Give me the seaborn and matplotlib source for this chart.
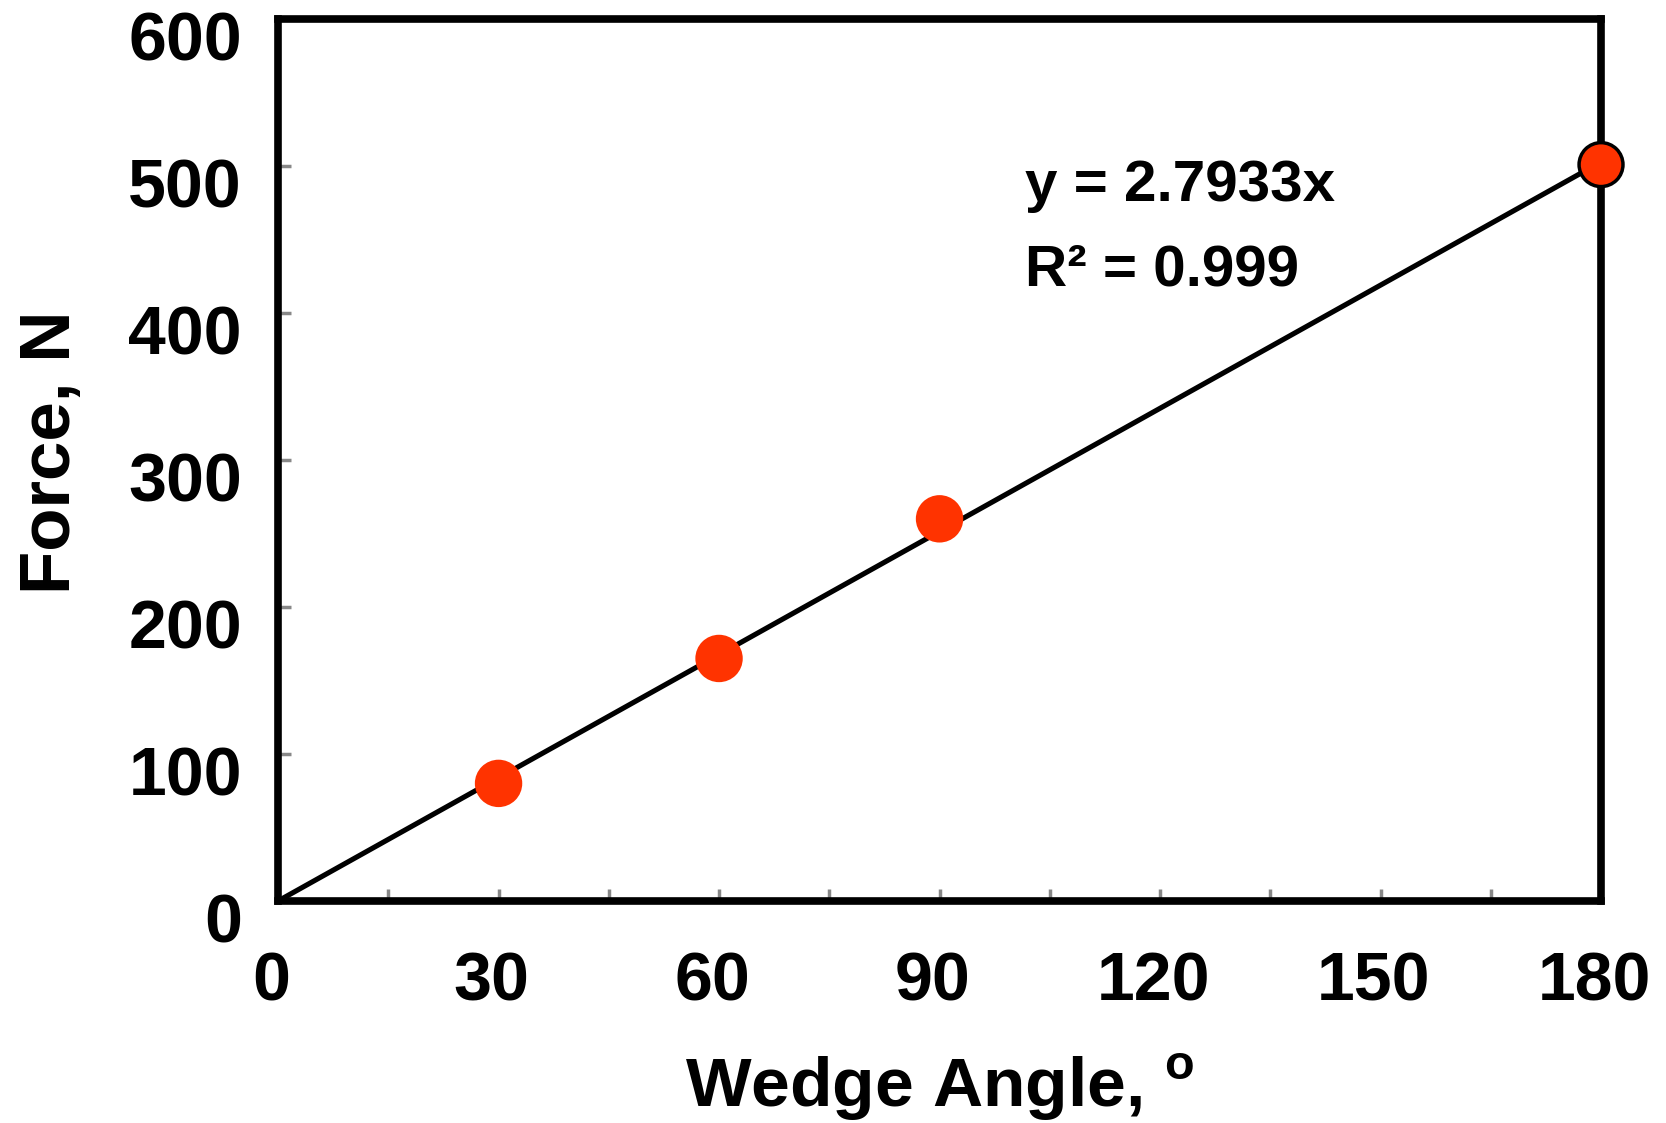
import matplotlib
matplotlib.use("Agg")
import numpy as np
import pandas as pd
import matplotlib.pyplot as plt
import matplotlib.transforms as mtransforms
import seaborn as sns

# data
wedge_angle = [30, 60, 90, 180]
force = [80, 165, 260, 501]
slope = 2.7933
r_squared = 0.999
fit_x = [0, 180]
x_ticks = [0, 30, 60, 90, 120, 150, 180]
y_ticks = [0, 100, 200, 300, 400, 500, 600]

df = pd.DataFrame({"angle": wedge_angle, "force": force})
fit = pd.DataFrame({"angle": fit_x, "force": [slope * v for v in fit_x]})

sns.set_style("white")
plt.rcParams["font.family"] = ["Liberation Sans", "DejaVu Sans"]
plt.rcParams["font.weight"] = "bold"
plt.rcParams["text.color"] = "black"
plt.rcParams["axes.labelcolor"] = "black"
plt.rcParams["mathtext.fontset"] = "custom"
plt.rcParams["mathtext.bf"] = "Liberation Sans:bold"
plt.rcParams["mathtext.rm"] = "Liberation Sans:bold"

fig = plt.figure(figsize=(16.66, 11.23), dpi=100)
ax = fig.add_axes([0.1669, 0.1977, 0.9610 - 0.1669, 0.9830 - 0.1977])

sns.lineplot(data=fit, x="angle", y="force", ax=ax, color="black", linewidth=3.7, zorder=2)
edges = ["#ff3300", "#ff3300", "#ff3300", "black"]
sns.scatterplot(data=df, x="angle", y="force", ax=ax, s=1000, color="#ff3300",
                edgecolor=edges, linewidth=2.5, zorder=3, clip_on=False)

ax.set_xlim(0, 180)
ax.set_ylim(0, 600)
ax.set_xticks(x_ticks)
ax.set_xticks(np.arange(15, 180, 30), minor=True)
ax.set_yticks(y_ticks)
ax.tick_params(axis="both", which="both", direction="in", length=9, width=2.5,
               color="#888888", labelcolor="black", labelsize=49,
               bottom=True, left=True, top=False, right=False)
ax.tick_params(axis="x", which="major", pad=36)
ax.tick_params(axis="y", which="major", pad=26)

# Excel-like label placement: y labels sit a bit below their ticks, x labels a bit left
dy = mtransforms.ScaledTranslation(0, -12 / 72, fig.dpi_scale_trans)
dx = mtransforms.ScaledTranslation(-5 / 72, 0, fig.dpi_scale_trans)
for lab in ax.get_yticklabels():
    lab.set_fontweight("bold")
    lab.set_transform(lab.get_transform() + dy)
for lab in ax.get_xticklabels():
    lab.set_fontweight("bold")
    lab.set_transform(lab.get_transform() + dx)

for sp in ax.spines.values():
    sp.set_visible(True)
    sp.set_color("black")
    sp.set_linewidth(5.5)

ax.set_xlabel(r"Wedge Angle, $^{\mathbf{o}}$", fontsize=50, fontweight="bold", labelpad=27)
ax.set_ylabel("Force, N", fontsize=51, fontweight="bold")
ax.yaxis.set_label_coords(-0.146, 0.509)

ax.text(101.6, 476, f"y = {slope}x", fontsize=42, fontweight="bold", va="baseline")
ax.text(101.6, 419, f"R² = {r_squared}", fontsize=42, fontweight="bold", va="baseline")

fig.savefig("out.png", dpi=100)
